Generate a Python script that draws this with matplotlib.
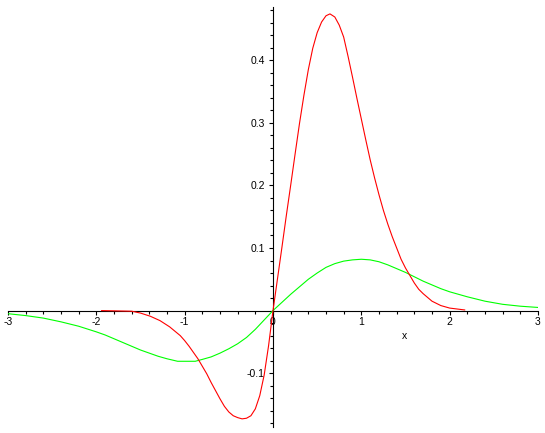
import matplotlib
matplotlib.use("Agg")
import matplotlib.pyplot as plt
from matplotlib.ticker import MultipleLocator, FixedLocator, FixedFormatter

# red curve
red_x = [-1.94, -1.60, -1.50, -1.39, -1.28, -1.17, -1.05, -1.00, -0.95, -0.90,
         -0.85, -0.80, -0.75, -0.70, -0.65, -0.60, -0.55, -0.50, -0.45, -0.40,
         -0.35, -0.30, -0.25, -0.20, -0.15, -0.10, -0.05, 0.0, 0.05, 0.10,
         0.15, 0.20, 0.25, 0.30, 0.35, 0.40, 0.45, 0.50, 0.55, 0.60,
         0.645, 0.70, 0.75, 0.80, 0.85, 0.90, 0.95, 1.00, 1.05, 1.10,
         1.15, 1.20, 1.25, 1.30, 1.35, 1.40, 1.45, 1.50, 1.55, 1.60,
         1.65, 1.70, 1.80, 1.90, 2.00, 2.17]
red_y = [0.0, -0.001, -0.004, -0.009, -0.016, -0.026, -0.040, -0.048, -0.057, -0.067,
         -0.077, -0.089, -0.101, -0.115, -0.128, -0.141, -0.153, -0.162, -0.168, -0.171,
         -0.173, -0.172, -0.168, -0.157, -0.136, -0.103, -0.056, 0.0, 0.050, 0.100,
         0.151, 0.200, 0.250, 0.299, 0.344, 0.385, 0.419, 0.444, 0.461, 0.471,
         0.474, 0.469, 0.456, 0.437, 0.406, 0.373, 0.339, 0.306, 0.273, 0.241,
         0.212, 0.185, 0.160, 0.138, 0.118, 0.100, 0.082, 0.068, 0.056, 0.044,
         0.034, 0.027, 0.015, 0.008, 0.004, 0.001]

# green curve
green_x = [-3.0, -2.8, -2.6, -2.4, -2.2, -2.0, -1.9, -1.8, -1.7, -1.6,
           -1.5, -1.4, -1.3, -1.2, -1.08, -0.88, -0.8, -0.7, -0.6, -0.5,
           -0.4, -0.3, -0.2, -0.1, 0.0, 0.1, 0.2, 0.3, 0.4, 0.5,
           0.6, 0.7, 0.8, 0.9, 1.0, 1.1, 1.2, 1.3, 1.4, 1.5,
           1.6, 1.7, 1.8, 1.9, 2.0, 2.2, 2.4, 2.6, 2.8, 3.0]
green_y = [-0.005, -0.008, -0.012, -0.018, -0.025, -0.034, -0.039, -0.045, -0.051, -0.057,
           -0.063, -0.068, -0.073, -0.077, -0.081, -0.081, -0.078, -0.074, -0.068, -0.061,
           -0.053, -0.043, -0.030, -0.015, 0.0, 0.013, 0.026, 0.038, 0.050, 0.060,
           0.069, 0.075, 0.079, 0.081, 0.082, 0.081, 0.078, 0.073, 0.067, 0.061,
           0.054, 0.047, 0.041, 0.035, 0.030, 0.022, 0.015, 0.010, 0.007, 0.005]

x_ticks = [-3, -2, -1, 0, 1, 2, 3]
x_labels = ["-3", "-2", "-1", "0", "1", "2", "3"]
y_ticks = [-0.1, 0.1, 0.2, 0.3, 0.4]
y_labels = ["-0.1", "0.1", "0.2", "0.3", "0.4"]

plt.rcParams['font.family'] = ['Liberation Sans', 'DejaVu Sans']

fig = plt.figure(figsize=(5.45, 4.33), dpi=100)
ax = fig.add_axes([8 / 545, 6 / 433, 530 / 545, 420 / 433])

ax.plot(green_x, green_y, color="#00ff00", lw=0.8, zorder=3)
ax.plot(red_x, red_y, color="#ff0000", lw=0.8, zorder=3)

ax.set_xlim(-3, 3)
ax.set_ylim(-0.186, 0.485)

# maple style axes through the origin
ax.spines['left'].set_position(('data', 0))
ax.spines['bottom'].set_position(('data', 0))
ax.spines['top'].set_visible(False)
ax.spines['right'].set_visible(False)
for s in ('left', 'bottom'):
    ax.spines[s].set_linewidth(0.8)

ax.xaxis.set_major_locator(FixedLocator(x_ticks))
ax.xaxis.set_major_formatter(FixedFormatter(x_labels))
ax.xaxis.set_minor_locator(MultipleLocator(0.2))
ax.yaxis.set_major_locator(FixedLocator(y_ticks))
ax.yaxis.set_major_formatter(FixedFormatter(y_labels))
ax.yaxis.set_minor_locator(MultipleLocator(0.02))

ax.tick_params(which='both', direction='out', width=0.8, labelsize=7.5)
ax.tick_params(which='major', length=3)
ax.tick_params(which='minor', length=2.5)
ax.tick_params(axis='x', pad=1.5)
ax.tick_params(axis='y', pad=3)

ax.set_xlabel("x", fontsize=7.5)
ax.xaxis.set_label_coords(0.749, 0.229)

fig.savefig("out.png", dpi=100)
